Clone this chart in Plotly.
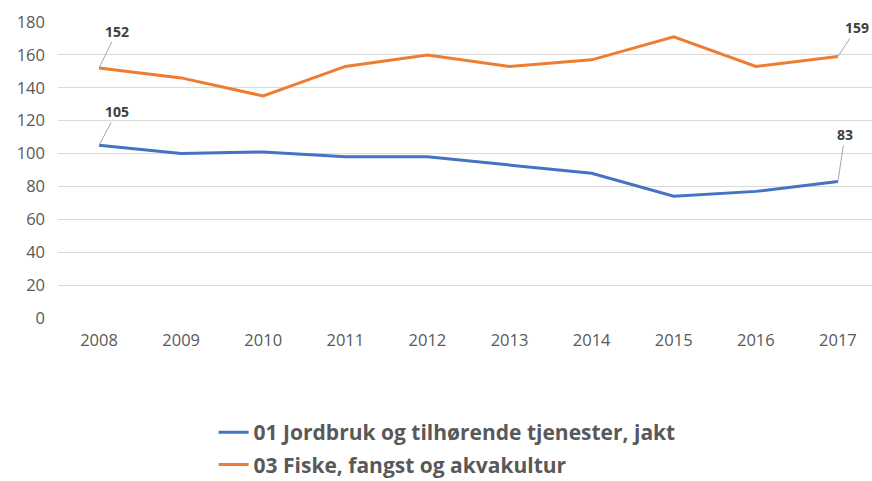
import plotly.graph_objects as go

years = ["2008", "2009", "2010", "2011", "2012", "2013", "2014", "2015", "2016", "2017"]
jordbruk = [105, 100, 101, 98, 98, 93, 88, 74, 77, 83]
fiske = [152, 146, 135, 153, 160, 153, 157, 171, 153, 159]
series_names = ["01 Jordbruk og tilhørende tjenester, jakt", "03 Fiske, fangst og akvakultur"]
y_ticks = [0, 20, 40, 60, 80, 100, 120, 140, 160, 180]

BLUE = "#4472C4"
ORANGE = "#ED7D31"
FONT = "Open Sans"

fig = go.Figure()
fig.add_trace(go.Scatter(x=years, y=jordbruk, mode="lines", name=series_names[0],
                         legendgroup="a", line=dict(color=BLUE, width=3)))
fig.add_trace(go.Scatter(x=years, y=fiske, mode="lines", name=series_names[1],
                         legendgroup="b", line=dict(color=ORANGE, width=3)))

# data labels with leader lines (first and last points)
label_specs = [
    (fiske, 0, 18, -37),
    (jordbruk, 0, 18, -34),
    (fiske, 9, 19, -29),
    (jordbruk, 9, 7, -47),
]
for series, idx, ax, ay in label_specs:
    fig.add_annotation(x=idx, y=series[idx], xref="x", yref="y", text=f"<b>{series[idx]}</b>",
                       showarrow=True, arrowhead=0, arrowwidth=1, arrowcolor="#a6a6a6",
                       ax=ax, ay=ay,
                       font=dict(family=FONT, size=14, color="#404040"))

fig.update_layout(
    width=872, height=481,
    margin=dict(l=58, r=0, t=22, b=163, autoexpand=False),
    paper_bgcolor="white", plot_bgcolor="white",
    font=dict(family=FONT, color="#595959"),
    showlegend=True,
    legend=dict(orientation="v", x=0.478, xanchor="center", y=-0.318, yanchor="top",
                font=dict(family=FONT, size=21, color="#595959", weight="bold"),
                itemwidth=30, tracegroupgap=2, bgcolor="rgba(0,0,0,0)"),
)
fig.update_xaxes(type="category", range=[-0.5, 9.415], showgrid=False, showline=False,
                 zeroline=False, ticks="", tickfont=dict(family=FONT, size=16.5, color="#595959"),
                 ticklabelstandoff=10)
fig.update_yaxes(range=[0, 180], tickvals=y_ticks, showgrid=True, gridcolor="#d9d9d9",
                 gridwidth=1, zeroline=False, showline=False, ticks="",
                 tickfont=dict(family=FONT, size=16.5, color="#595959"), ticklabelstandoff=12)

fig.write_html("out.html", config={"displayModeBar": False},
               post_script="document.body.style.margin='0';")
